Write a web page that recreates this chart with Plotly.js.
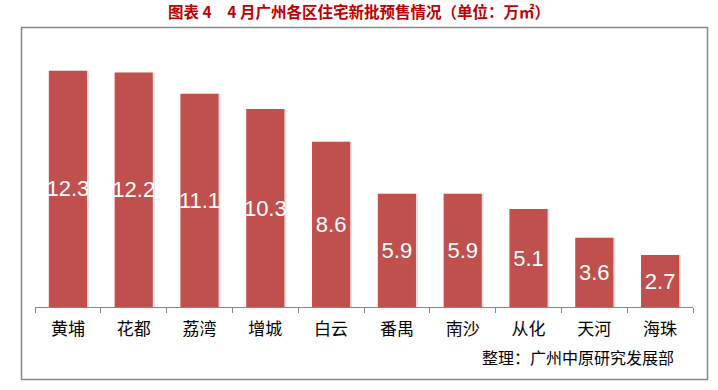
<!DOCTYPE html>
<html>
<head>
<meta charset="utf-8">
<script src="https://cdn.plot.ly/plotly-3.0.1.min.js"></script>
<style>html,body{margin:0;padding:0;background:#fff;}#chart{width:718px;height:390px;}</style>
</head>
<body>
<div id="chart"></div>
<script>
const categories = ["黄埔","花都","荔湾","增城","白云","番禺","南沙","从化","天河","海珠"];
const values = [12.3,12.2,11.1,10.3,8.6,5.9,5.9,5.1,3.6,2.7];
const titleText = "图表 4　4 月广州各区住宅新批预售情况（单位：万㎡）";
const sourceText = "整理：广州中原研究发展部";

const cjk = '"Noto Sans CJK SC", "Microsoft YaHei", sans-serif';

const shadow = {
  type: 'bar', x: categories, y: values,
  width: 0.58, offset: -0.26,
  marker: {color: 'rgba(0,0,0,0.12)'},
  hoverinfo: 'skip', showlegend: false
};
const bars = {
  type: 'bar', x: categories, y: values,
  width: 0.58, offset: -0.29,
  marker: {color: '#C0504D'},
  text: values.map(v => v.toFixed(1)),
  textposition: 'inside', insidetextanchor: 'middle',
  constraintext: 'none', textangle: 0,
  textfont: {family: 'Liberation Sans, Arial, sans-serif', size: 22, color: '#ffffff'},
  showlegend: false
};

const layout = {
  width: 718, height: 390,
  margin: {l: 35, r: 25, t: 38, b: 83},
  paper_bgcolor: '#ffffff', plot_bgcolor: '#ffffff',
  barmode: 'overlay',
  title: {
    text: '<b>' + titleText + '</b>',
    font: {family: cjk, size: 15.5, color: '#C00000'},
    x: 0.5, xanchor: 'center', y: 1 - 13/390, yanchor: 'middle'
  },
  xaxis: {
    type: 'category', showline: true, linecolor: '#868686', linewidth: 1,
    ticks: 'outside', tickson: 'boundaries', ticklen: 5, tickcolor: '#868686',
    ticklabelstandoff: 7,
    tickfont: {family: cjk, size: 17, color: '#000000'},
    showgrid: false, zeroline: false, fixedrange: true
  },
  yaxis: {range: [0, 14], visible: false, showgrid: false, zeroline: false},
  shapes: [{
    type: 'rect', xref: 'paper', yref: 'paper',
    x0: (21.5-35)/658, x1: (707.5-35)/658,
    y0: (307-379.5)/269, y1: (307-27.5)/269,
    line: {color: '#868686', width: 1.5}, fillcolor: 'rgba(0,0,0,0)', layer: 'below'
  }],
  annotations: [{
    text: sourceText, xref: 'paper', yref: 'paper',
    x: (577.5-35)/658, y: (307-357)/269, xanchor: 'center', yanchor: 'middle',
    showarrow: false, font: {family: cjk, size: 16, color: '#000000'}
  }]
};

Plotly.newPlot('chart', [shadow, bars], layout, {displayModeBar: false, staticPlot: true});
</script>
</body>
</html>
